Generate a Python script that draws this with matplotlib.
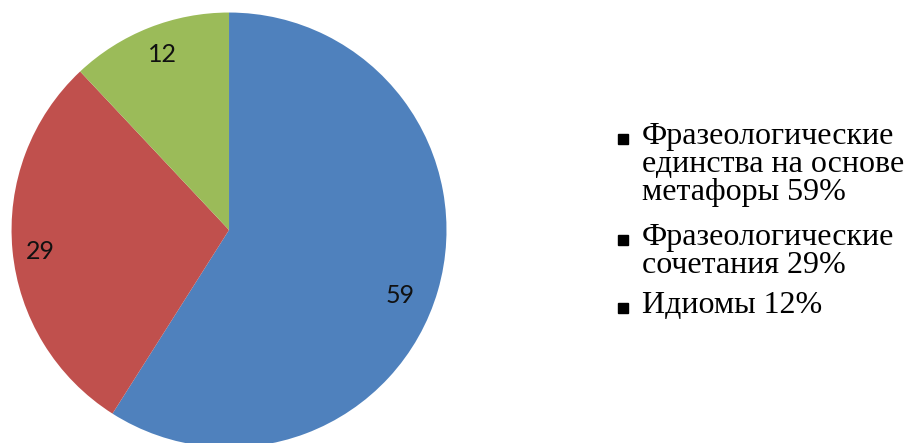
import matplotlib
matplotlib.use("Agg")
import matplotlib.pyplot as plt
from matplotlib.lines import Line2D
import numpy as np

legend_lines = [["Фразеологические", "единства на основе", "метафоры 59%"],
                ["Фразеологические", "сочетания 29%"],
                ["Идиомы 12%"]]
values = [59, 29, 12]
value_labels = ["59", "29", "12"]
colors = ["#4F81BD", "#C0504D", "#9BBB59"]

W, H = 909, 443
fig = plt.figure(figsize=(W / 100, H / 100), dpi=100)
ax = fig.add_axes([0.0127, -0.0102, 0.4785, 0.982])
wedges, _ = ax.pie(values, colors=colors, startangle=90, counterclock=False,
                   radius=1.0, wedgeprops=dict(linewidth=0))
ax.set_xlim(-1, 1)
ax.set_ylim(-1, 1)
ax.set_aspect("equal")
ax.axis("off")

# label placement (radius fraction, angle offset in degrees)
label_r = [0.844, 0.872, 0.861]
label_da = [-4.6, 1.0, -0.8]
for w, lab, r, da in zip(wedges, value_labels, label_r, label_da):
    ang = np.deg2rad((w.theta1 + w.theta2) / 2 + da)
    ax.text(r * np.cos(ang), r * np.sin(ang), lab, ha="center", va="center",
            fontsize=18, family=["Lato", "DejaVu Sans"], color="#111111")

# legend drawn as text lines
first_baselines = [144, 245, 313]
line_step = 28
for y0, lines in zip(first_baselines, legend_lines):
    fig.add_artist(Line2D([623 / W], [1 - (y0 - 5) / H], marker="s",
                          markersize=7.4, color="black", linestyle="none",
                          transform=fig.transFigure))
    for i, txt in enumerate(lines):
        fig.text(642 / W, 1 - (y0 + i * line_step) / H, txt, fontsize=23,
                 family=["Liberation Serif", "DejaVu Serif"], va="baseline",
                 ha="left", color="black")

fig.savefig("out.png", dpi=100)
